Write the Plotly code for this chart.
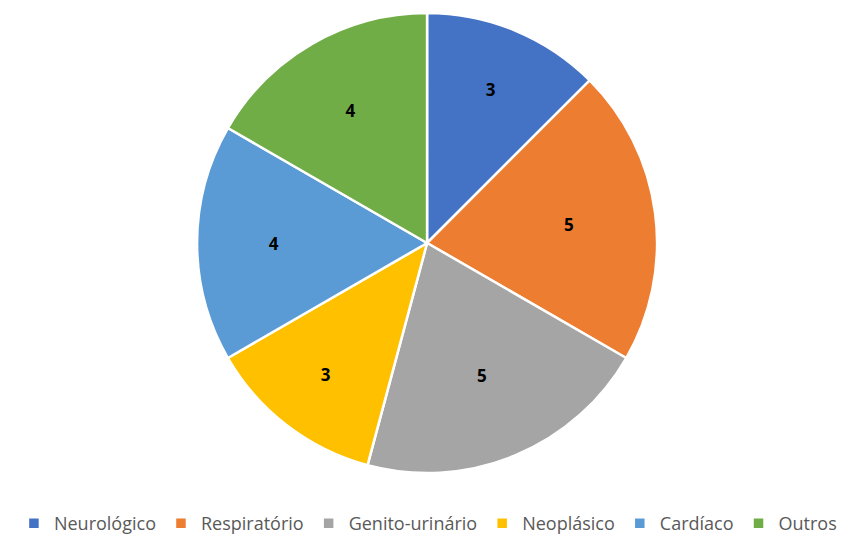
import plotly.graph_objects as go

categories = ["Neurológico", "Respiratório", "Genito-urinário", "Neoplásico", "Cardíaco", "Outros"]
values = [3, 5, 5, 3, 4, 4]
colors = ["#4472C4", "#ED7D31", "#A5A5A5", "#FFC000", "#5B9BD5", "#70AD47"]

fig = go.Figure(go.Pie(
    labels=categories,
    values=values,
    sort=False,
    direction="clockwise",
    rotation=0,
    domain=dict(x=[0, 0.978], y=[0, 1]),
    marker=dict(colors=colors, line=dict(color="white", width=2.5)),
    textinfo="value",
    textposition="inside",
    textfont=dict(family="Open Sans, Liberation Sans, sans-serif", size=17, color="black", weight="bold"),
    hoverinfo="label+value",
))

fig.update_layout(
    width=857, height=534,
    margin=dict(l=0, r=0, t=5, b=69),
    paper_bgcolor="white",
    showlegend=True,
    legend=dict(
        orientation="h", x=0.49, xanchor="center", y=-0.11, yanchor="middle",
        font=dict(family="Open Sans, Liberation Sans, sans-serif", size=18, color="#595959"),
        traceorder="normal", itemwidth=30,
    ),
)

fig.write_html("out.html")
